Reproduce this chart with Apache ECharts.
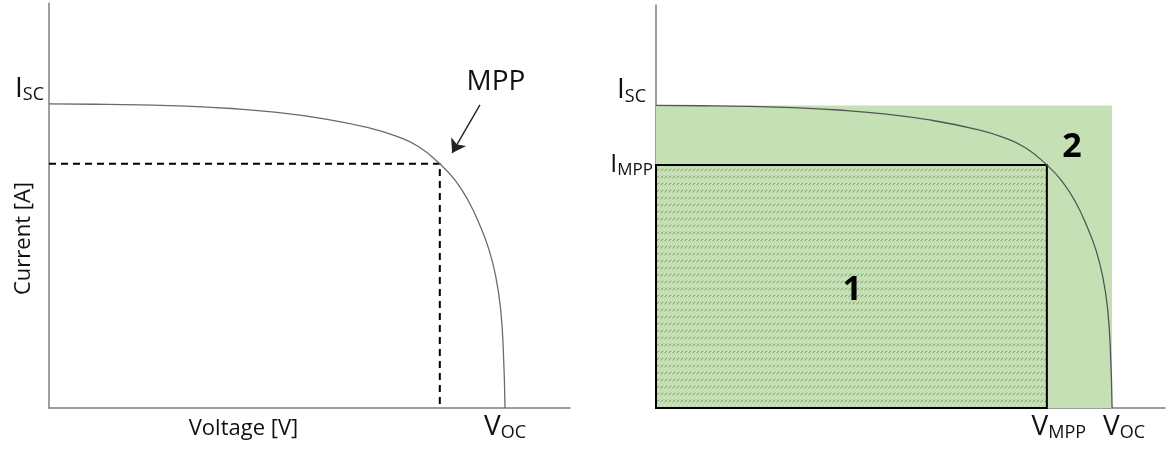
<!DOCTYPE html>
<html>
<head>
<meta charset="utf-8">
<script src="https://cdn.jsdelivr.net/npm/echarts@6/dist/echarts.min.js"></script>
<style>
html, body { margin: 0; padding: 0; background: #fff; }
#chart-container { width: 1176px; height: 452px; }
</style>
</head>
<body>
<div id="chart-container"></div>
<script>
// I-V curve, normalised: voltage / Voc, current / Isc
var voltage = [0, 0.1, 0.2, 0.3, 0.4, 0.5, 0.6, 0.7, 0.76, 0.81, 0.857, 0.89, 0.92, 0.945, 0.965, 0.98, 0.99, 0.996, 1];
var current = [1, 0.999, 0.997, 0.993, 0.985, 0.972, 0.952, 0.922, 0.895, 0.86, 0.803, 0.75, 0.68, 0.6, 0.52, 0.43, 0.33, 0.2, 0];
var isc = 1, voc = 1;
var vmpp = 0.857, impp = 0.803;
var regionLabels = ['1', '2'];

var dom = document.getElementById('chart-container');
var myChart = echarts.init(dom, null, { renderer: 'canvas' });

var curve = voltage.map(function (v, i) { return [v, current[i]]; });

// small hatch tile for the MPP rectangle
var tile = document.createElement('canvas');
tile.width = 4;
tile.height = 7;
var ctx = tile.getContext('2d');
ctx.fillStyle = '#c5e0b4';
ctx.fillRect(0, 0, 4, 7);
ctx.strokeStyle = '#7a9968';
ctx.lineWidth = 1;
ctx.beginPath();
ctx.moveTo(0.5, 3.2);
ctx.lineTo(3.2, 0.8);
ctx.stroke();

var font = 'Open Sans';
var axisGray = '#7f7f7f';

var subRich = {
  a: { fontFamily: font, fontSize: 28, lineHeight: 30, color: '#111' },
  b: { fontFamily: font, fontSize: 18, lineHeight: 14, verticalAlign: 'bottom', color: '#111' },
  // shifted right
  ra: { fontFamily: font, fontSize: 28, lineHeight: 30, color: '#111', padding: [0, 0, 0, 24] },
  sa: { fontFamily: font, fontSize: 25, lineHeight: 28, color: '#111' },
  sb: { fontFamily: font, fontSize: 17, lineHeight: 14, verticalAlign: 'bottom', color: '#111' }
};

function baseAxis(extra) {
  var ax = {
    type: 'value',
    min: 0,
    splitLine: { show: false },
    axisTick: { show: false },
    axisLine: { show: true, onZero: false, lineStyle: { color: axisGray, width: 1.5 } }
  };
  for (var k in extra) ax[k] = extra[k];
  return ax;
}

var option = {
  animation: false,
  grid: [
    { left: 49, top: 3, width: 521, height: 405, outerBoundsMode: 'none', containLabel: false },
    { left: 656, top: 5, width: 509, height: 403, outerBoundsMode: 'none', containLabel: false }
  ],
  xAxis: [
    baseAxis({
      gridIndex: 0, max: 1.1425,
      name: 'Voltage [V]', nameLocation: 'middle', nameGap: 10, nameMoveOverlap: false,
      nameTextStyle: { fontFamily: font, fontSize: 22, color: '#111', padding: [0, 132, 0, 0], verticalAlign: 'top' },
      axisLabel: {
        customValues: [voc], margin: 4, hideOverlap: false,
        formatter: function () { return '{a|V}{b|OC}'; },
        rich: subRich
      }
    }),
    baseAxis({
      gridIndex: 1, max: 1.116, position: 'bottom',
      axisLabel: {
        customValues: [voc], margin: 4, hideOverlap: false,
        formatter: function () { return '{ra|V}{b|OC}'; },
        rich: subRich
      }
    }),
    baseAxis({
      // second scale on the right grid, only to carry the V_MPP label
      gridIndex: 1, max: 1.116, position: 'bottom', offset: 0,
      axisLine: { show: false },
      axisLabel: {
        customValues: [vmpp], margin: 4, hideOverlap: false,
        formatter: function () { return '{ra|V}{b|MPP}'; },
        rich: subRich
      }
    })
  ],
  yAxis: [
    baseAxis({
      gridIndex: 0, max: 1.332,
      name: 'Current [A]', nameLocation: 'middle', nameGap: 14, nameMoveOverlap: false,
      nameTextStyle: { fontFamily: font, fontSize: 22, color: '#111', padding: [0, 66, 0, 0] },
      axisLabel: {
        customValues: [isc], margin: 5, verticalAlign: 'bottom', hideOverlap: false,
        formatter: function () { return '{a|I}{b|SC}'; },
        rich: subRich
      }
    }),
    baseAxis({
      gridIndex: 1, max: 1.332, position: 'left',
      axisLabel: {
        customValues: [isc], margin: 10, verticalAlign: 'bottom', hideOverlap: false,
        formatter: function () { return '{a|I}{b|SC}'; },
        rich: subRich
      }
    }),
    baseAxis({
      // second scale on the right grid, only to carry the I_MPP label
      gridIndex: 1, max: 1.332, position: 'left', offset: 0,
      axisLine: { show: false },
      axisLabel: {
        customValues: [impp], margin: 3, hideOverlap: false,
        formatter: function () { return '{sa|I}{sb|MPP}'; },
        rich: subRich
      }
    })
  ],
  series: [
    {
      // left: I-V curve with MPP arrow
      type: 'line', xAxisIndex: 0, yAxisIndex: 0,
      data: curve, smooth: true, symbol: 'none', z: 5,
      lineStyle: { color: '#6a6a6a', width: 1.3 },
      markLine: {
        silent: true, symbol: ['none', 'arrow'], symbolSize: 13,
        label: { show: false },
        lineStyle: { color: '#222', width: 1.4, type: 'solid' },
        data: [[{ coord: [0.945, 0.997] }, { coord: [0.884, 0.839] }]]
      },
      markPoint: {
        silent: true, symbol: 'circle', symbolSize: 0,
        label: { show: true, position: 'inside', formatter: 'MPP', fontFamily: font, fontSize: 28, color: '#111' },
        data: [{ coord: [0.98, 1.071] }]
      }
    },
    {
      // left: dashed guide to MPP
      type: 'line', xAxisIndex: 0, yAxisIndex: 0,
      data: [[0, impp], [vmpp, impp], [vmpp, 0]], symbol: 'none', z: 4,
      lineStyle: { color: '#000', width: 2, type: [7, 5] }
    },
    {
      // right: Isc x Voc area and MPP hatched area
      type: 'line', xAxisIndex: 1, yAxisIndex: 1,
      data: [], symbol: 'none', z: 1,
      markArea: {
        silent: true,
        data: [
          [{ coord: [0, 0], itemStyle: { color: '#c5e0b4' } }, { coord: [voc, isc] }],
          [{ coord: [0, 0], itemStyle: { color: { image: tile, repeat: 'repeat' }, borderColor: '#000', borderWidth: 2 } }, { coord: [vmpp, impp] }]
        ]
      }
    },
    {
      type: 'line', xAxisIndex: 1, yAxisIndex: 1,
      data: curve, smooth: true, symbol: 'none', z: 5,
      lineStyle: { color: '#555', width: 1.3 },
      markPoint: {
        silent: true, symbol: 'circle', symbolSize: 0,
        label: { show: true, position: 'inside', fontFamily: font, fontSize: 34, fontWeight: 'bold', color: '#000',
          formatter: function (p) { return p.name; } },
        data: [
          { name: regionLabels[0], coord: [0.43, 0.39] },
          { name: regionLabels[1], coord: [0.912, 0.861] }
        ]
      }
    }
  ]
};

myChart.setOption(option);
window.addEventListener('resize', myChart.resize);
</script>
</body>
</html>
